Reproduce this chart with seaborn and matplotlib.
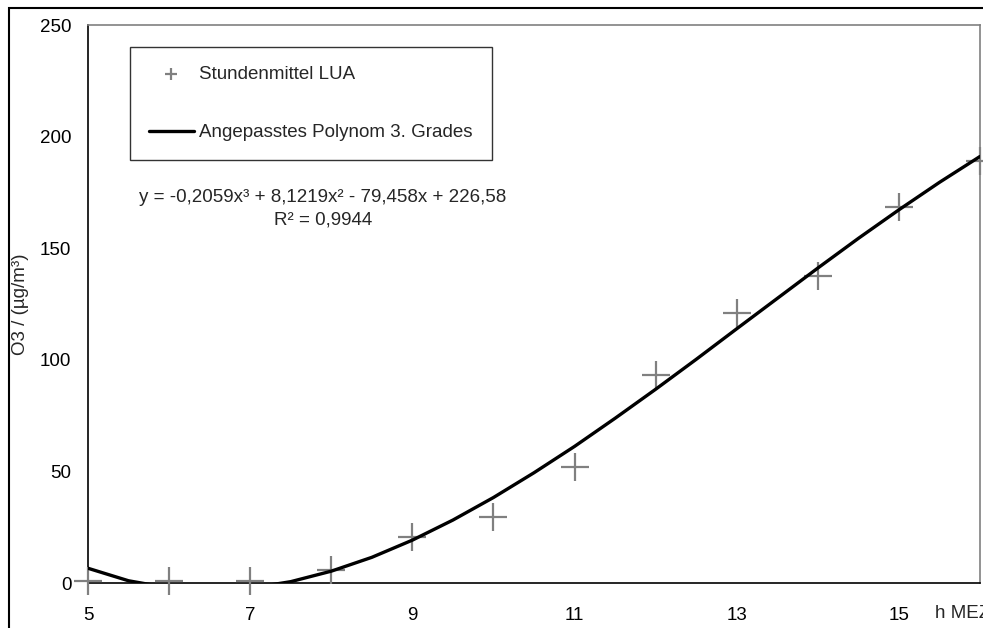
import matplotlib
matplotlib.use("Agg")
import matplotlib.pyplot as plt
import seaborn as sns
from matplotlib.patches import Rectangle

# Stundenmittel (Messwerte)
stunden = [5, 6, 7, 8, 9, 10, 11, 12, 13, 14, 15, 16]
o3_werte = [1, 1, 1, 5.8, 20.5, 29.5, 52, 93, 121, 137.5, 168.5, 189]

kurve_x = [5, 5.5, 6, 6.5, 7, 7.5, 8, 8.5, 9, 9.5, 10, 10.5, 11, 11.5,
           12, 12.5, 13, 13.5, 14, 14.5, 15, 15.5, 16]
kurve_y = [6.6, 1.0, -2.2, -3.3, -2.3, 0.6, 5.3, 11.5, 19.2, 28.2, 38.3, 49.4,
           61.2, 73.8, 86.8, 100.2, 113.9, 127.5, 141.1, 154.4, 167.2, 179.5, 191.1]

x_ticks = [5, 7, 9, 11, 13, 15]
y_ticks = [0, 50, 100, 150, 200, 250]

sns.set_style("white")
plt.rcParams['font.family'] = ['Liberation Sans', 'DejaVu Sans']

fig = plt.figure(figsize=(9.83, 6.28), dpi=100)
ax = fig.add_axes([88 / 983, 45 / 628, 892 / 983, 558 / 628])

sns.scatterplot(x=stunden, y=o3_werte, marker='+', color='#808080', s=380,
                linewidth=1.6, label='Stundenmittel LUA', ax=ax, zorder=3)
# Kreuze werden am Achsenrand nicht abgeschnitten
for coll in ax.collections:
    coll.set_clip_on(False)
sns.lineplot(x=kurve_x, y=kurve_y, color='black', linewidth=2.4, sort=False,
             label='Angepasstes Polynom 3. Grades', ax=ax, zorder=4)

ax.set_xlim(5, 16)
ax.set_ylim(0, 250)
ax.set_xticks(x_ticks)
ax.set_yticks(y_ticks)
ax.tick_params(axis='both', direction='out', length=5, width=1, color='black',
               labelsize=13.5, labelcolor='black')
ax.tick_params(axis='x', pad=12)
ax.tick_params(axis='y', pad=7)
ax.set_xlabel('')
ax.set_ylabel('O3 / (µg/m³)', fontsize=13.5, labelpad=8)

for side in ['left', 'bottom']:
    ax.spines[side].set_color('black')
    ax.spines[side].set_linewidth(1.2)
for side in ['top', 'right']:
    ax.spines[side].set_color('#808080')
    ax.spines[side].set_linewidth(1.2)

# Achsentitel rechts unten (Pixel von unten gezählt)
ax.text(935, 628 - 613, 'h MEZ', transform=None, fontsize=13.5,
        ha='left', va='center')

ax.text(323, 628 - 208.5, 'y = -0,2059x³ + 8,1219x² - 79,458x + 226,58\nR² = 0,9944',
        transform=None, fontsize=13.5, ha='center', va='center',
        multialignment='center', linespacing=1.45)

leg = ax.legend(loc='upper left', bbox_to_anchor=(130 / 983, 1 - 47 / 628),
                bbox_transform=fig.transFigure, frameon=True, fancybox=False,
                edgecolor='black', fontsize=13.5, markerscale=0.45,
                handlelength=2.4, handletextpad=0.3, labelspacing=2.2,
                borderpad=1.0, borderaxespad=0)
leg.get_frame().set_linewidth(1.0)

# Rahmen des Diagrammbereichs
fig.patches.append(Rectangle((9 / 983, -0.2), 1.5, 1 - 8 / 628 + 0.2,
                             transform=fig.transFigure, fill=False,
                             edgecolor='black', linewidth=1.5))

fig.savefig('out.png', dpi=100)
